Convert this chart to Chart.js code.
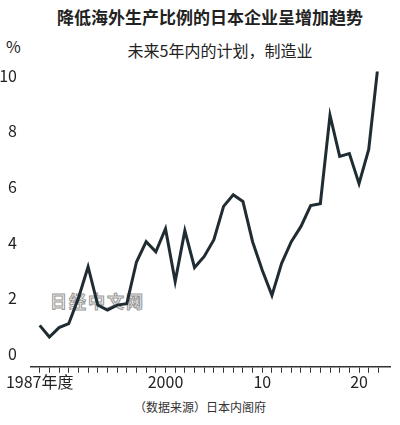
<!DOCTYPE html>
<html><head><meta charset="utf-8">
<script src="https://cdn.jsdelivr.net/npm/chart.js@4"></script>
<style>
body{margin:0;background:#fff;font-family:"Noto Sans CJK SC","Noto Sans",sans-serif;}
#wrap{position:relative;width:400px;height:425px;}
.t{position:absolute;left:0;width:400px;text-align:center;color:#222;}
#box{position:absolute;left:0;top:56px;width:400px;height:336px;}
</style></head><body>
<div id="wrap">
<div class="t" style="top:4px;font-size:17px;font-weight:bold;padding-left:10px">降低海外生产比例的日本企业呈增加趋势</div>
<div class="t" style="top:38px;font-size:16px;padding-left:20px">未来5年内的计划，制造业</div>
<div style="position:absolute;left:6px;top:34px;font-size:16px;color:#222">%</div>
<div style="position:absolute;left:50px;top:288px;font-size:17px;font-weight:bold;color:#f2f2f2;-webkit-text-stroke:1px #999;letter-spacing:2px">日经中文网</div>
<div class="t" style="top:398px;font-size:12px;color:#333">（数据来源）日本内阁府</div>
<div id="box"><canvas id="c"></canvas></div>
</div>
<script>
const years = [];
for (let y = 1987; y <= 2022; y++) years.push(y);
const values = [1.02,0.6,0.94,1.08,2.0,3.13,1.75,1.57,1.75,1.8,3.3,4.03,3.67,4.5,2.6,4.43,3.1,3.5,4.1,5.3,5.72,5.48,4.03,3.0,2.1,3.25,4.03,4.58,5.33,5.4,8.58,7.1,7.2,6.12,7.35,10.5];
const xLabels = {1987:'1987年度',2000:'2000',2010:'10',2020:'20'};
const yTicks = [0,2,4,6,8,10];

new Chart(document.getElementById('c'), {
  type:'line',
  data:{datasets:[{data:years.map((y,i)=>({x:y,y:values[i]})),borderColor:'#1f2d33',borderWidth:3,pointRadius:0,tension:0,borderJoinStyle:'miter'}]},
  options:{
    responsive:true,maintainAspectRatio:false,animation:false,
    layout:{padding:{left:0,right:10,top:0,bottom:0}},
    plugins:{legend:{display:false},tooltip:{enabled:false}},
    scales:{
      x:{type:'linear',min:1986.1,max:2023.2,
        afterBuildTicks:s=>{s.ticks=years.map(v=>({value:v}));},
        grid:{drawOnChartArea:false,tickLength:6,color:'#333'},
        border:{display:true,color:'#333',width:1.5},
        ticks:{autoSkip:false,maxRotation:0,color:'#222',font:{size:16,family:'"Noto Sans CJK SC"'},padding:0,
          callback:v=>xLabels[v]||''}},
      y:{min:-0.47,max:10.15,
        afterBuildTicks:s=>{s.ticks=yTicks.map(v=>({value:v}));},
        afterFit:s=>{s.width=31;},
        grid:{display:false},border:{display:false},
        ticks:{color:'#222',font:{size:16,family:'"Noto Sans CJK SC"'},padding:6}}
    }
  }
});
</script>
</body></html>
